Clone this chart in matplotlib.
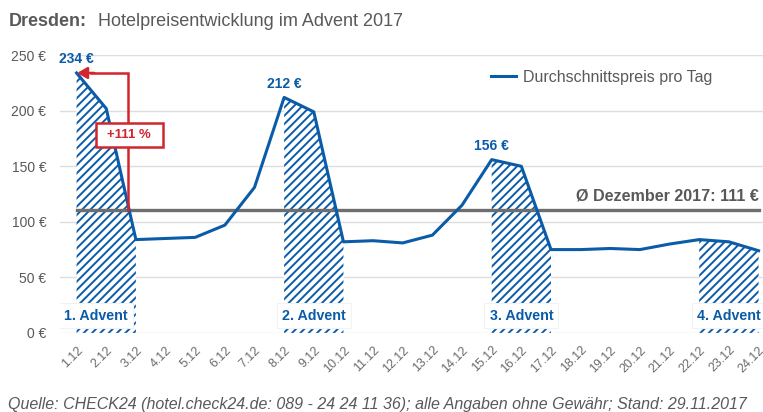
import numpy as np
import matplotlib
matplotlib.use('Agg')
import matplotlib.pyplot as plt
from matplotlib.patches import Rectangle

plt.rcParams['font.family'] = ['Liberation Sans', 'DejaVu Sans']
plt.rcParams['hatch.linewidth'] = 1.4

### Data
days = ['%d.12' % d for d in range(1, 25)]
price = [234, 202, 84, 85, 86, 97, 131, 212, 199, 82, 83, 81, 88, 115,
         156, 150, 75, 75, 76, 75, 80, 84, 82, 74]
avg_dec = 111
advent_idx = [0, 7, 14, 21]          # start day index of each advent weekend
advent_labels = ['1. Advent', '2. Advent', '3. Advent', '4. Advent']
peak_labels = ['234 €', '212 €', '156 €']
yticks = [0, 50, 100, 150, 200, 250]

blue = '#0b5ca8'
red = '#d3252c'
grey = '#595959'

fig = plt.figure(figsize=(7.63, 4.12), dpi=100)
ax = fig.add_axes([0.079, 0.192, 0.921, 0.674])

x = np.arange(len(days))

### Hatched advent weekends
for i in advent_idx:
    ax.fill_between(x[i:i + 3], 0, price[i:i + 3], facecolor='white',
                    edgecolor=blue, hatch='////', linewidth=0, zorder=2)

### White label boxes over the hatching
for k, (i, lab) in enumerate(zip(advent_idx, advent_labels)):
    shift = -0.35 if k == 0 else 0.0
    ax.add_patch(Rectangle((i - 0.25 + shift, 4.5), 2.5, 22, facecolor='white',
                           edgecolor='#f2f2f2', linewidth=0.8, zorder=3))
    ax.text(i + 1 + shift, 15, lab, color=blue, fontsize=10.3, fontweight='bold',
            ha='center', va='center', zorder=4)

### Average line
ax.plot([x[0], x[-1]], [avg_dec, avg_dec], color='#6e6e6e', lw=2.4, zorder=4)
ax.text(x[-1], 123, 'Ø Dezember 2017: 111 €', color=grey, fontsize=11.6,
        fontweight='bold', ha='right', va='center')

### Price line
ax.plot(x, price, color=blue, lw=2.2, zorder=5, label='Durchschnittspreis pro Tag')

### Peak labels
for i, lab in zip([0, 7, 14], peak_labels):
    ax.text(x[i], price[i] + 6, lab, color=blue, fontsize=10,
            fontweight='bold', ha='center', va='bottom', zorder=6)

### Red annotation (+111 % over December average)
ax.plot([1.75, 1.75, 0.5], [avg_dec, price[0], price[0]], color=red,
        lw=1.8, zorder=6, solid_joinstyle='miter')
ax.annotate('', xy=(0.02, price[0]), xytext=(0.6, price[0]),
            arrowprops=dict(arrowstyle='-|>,head_length=0.6,head_width=0.35',
                            color=red, lw=1.8, shrinkA=0, shrinkB=0), zorder=7)
ax.add_patch(Rectangle((0.64, 167), 2.26, 22, facecolor='white',
                       edgecolor=red, linewidth=1.8, zorder=7))
ax.text(1.77, 178, '+111 %', color=red, fontsize=9.5, fontweight='bold',
        ha='center', va='center', zorder=8)

### Axes styling
ax.set_xlim(-0.55, 23.15)
ax.set_ylim(0, 250)
ax.set_yticks(yticks)
ax.set_yticklabels(['%d €' % v for v in yticks])
ax.set_xticks(x)
ax.set_xticklabels(days, rotation=45, ha='right', rotation_mode='anchor')
ax.tick_params(axis='both', length=0, colors=grey)
ax.tick_params(axis='x', pad=8, labelsize=9, labelcolor='#6a6a6a')
ax.tick_params(axis='y', pad=10, labelsize=10)
ax.grid(axis='y', color='#dddddd', lw=1)
ax.set_axisbelow(True)
for s in ax.spines.values():
    s.set_visible(False)

leg = ax.legend(loc='upper right', bbox_to_anchor=(0.948, 1.0), frameon=False,
                fontsize=11.5, handlelength=1.6, handletextpad=0.4)
for t in leg.get_texts():
    t.set_color(grey)

### Title and source
fig.text(0.011, 0.948, 'Dresden:', fontsize=13, fontweight='bold', color=grey,
         va='center')
fig.text(0.128, 0.948, 'Hotelpreisentwicklung im Advent 2017', fontsize=13,
         color=grey, va='center')
fig.text(0.011, 0.017, 'Quelle: CHECK24 (hotel.check24.de: 089 - 24 24 11 36); '
         'alle Angaben ohne Gewähr; Stand: 29.11.2017', fontsize=11.5,
         style='italic', color=grey, va='center')

fig.savefig('out.png', dpi=100)
